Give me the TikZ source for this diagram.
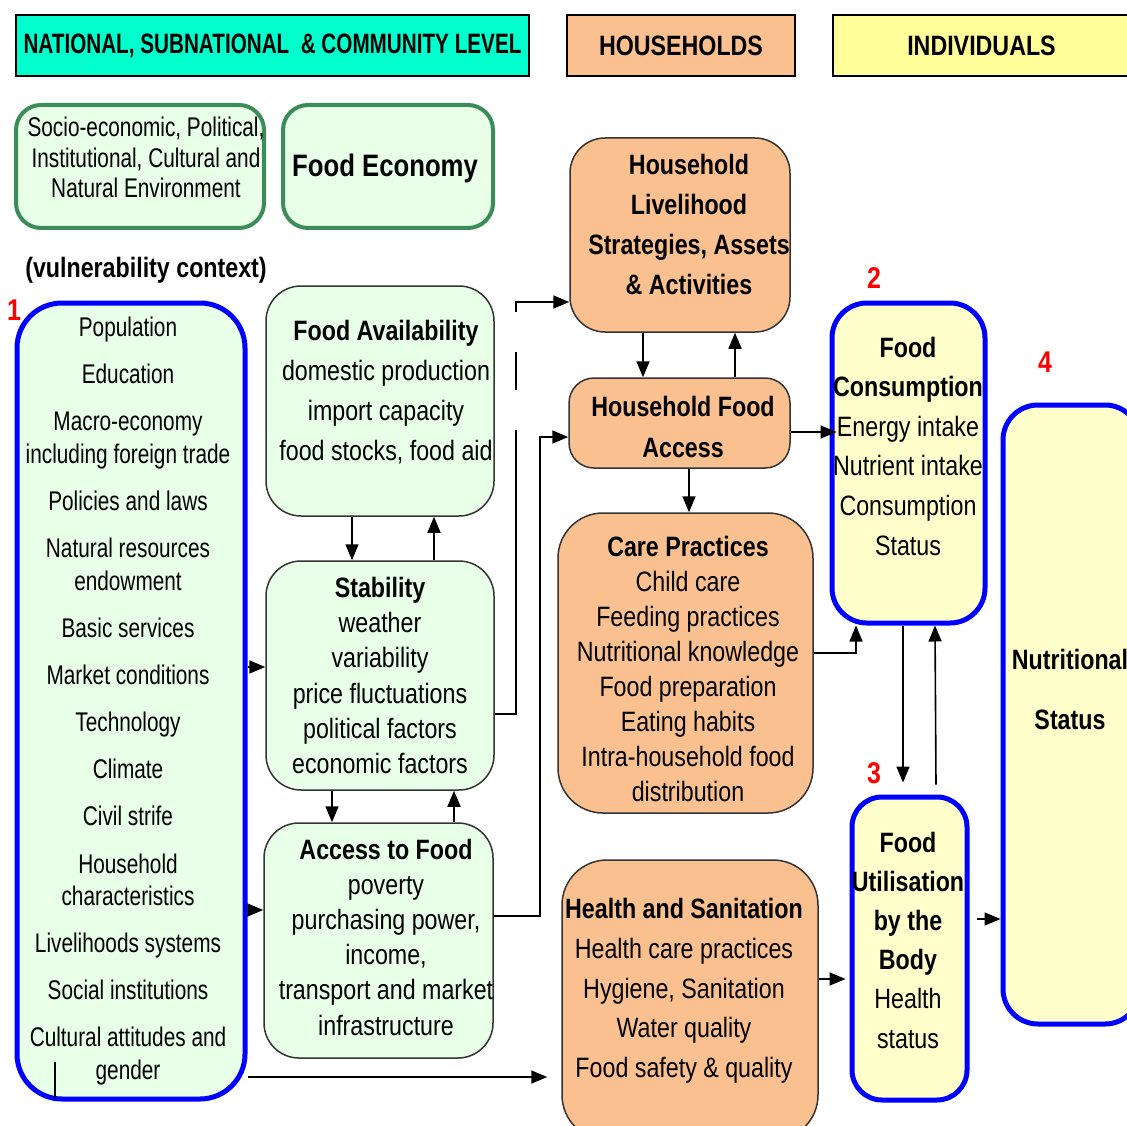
\documentclass[tikz,border=0pt]{standalone}
\usepackage{fontspec}
\usepackage{graphicx}
\usetikzlibrary{arrows.meta}
\newfontfamily\nfont[FakeStretch=0.83]{Liberation Sans}
\newfontfamily\lfont[FakeStretch=0.77]{Liberation Sans}
\definecolor{hcyan}{RGB}{0,255,204}
\definecolor{hpeach}{RGB}{250,192,144}
\definecolor{hyellow}{RGB}{255,255,153}
\definecolor{lgreen}{RGB}{232,255,232}
\definecolor{lyellow}{RGB}{255,255,204}
\definecolor{dgreen}{RGB}{60,140,90}
\definecolor{bblue}{RGB}{0,0,255}
\begin{document}
\begin{tikzpicture}[x=1pt,y=-1pt,
  hdr/.style={draw=black, line width=1.5pt, inner sep=0pt, font=\nfont\bfseries\fontsize{28}{30}\selectfont},
  gbox/.style={draw=dgreen, line width=4pt, fill=lgreen, rounded corners=25pt, inner sep=0pt},
  tbox/.style={draw=black!80, line width=1.5pt, fill=lgreen, rounded corners=35pt, inner sep=0pt},
  pbox/.style={draw=black!80, line width=1.5pt, fill=hpeach, rounded corners=35pt, inner sep=0pt},
  ybox/.style={draw=bblue, line width=5pt, fill=lyellow, rounded corners=35pt, inner sep=0pt},
  txt/.style={align=center, inner sep=0pt, font=\nfont\fontsize{28}{35}\selectfont},
  arr/.style={-{Triangle[length=16pt,width=13pt]}, line width=1.6pt, draw=black},
  num/.style={text=red, font=\nfont\bfseries\fontsize{30}{30}\selectfont, inner sep=0pt}
]
\clip (0,0) rectangle (1127,1126);
\fill[white] (0,0) rectangle (1127,1126);

% headers
\node[hdr, fill=hcyan, minimum width=513pt, minimum height=61pt] (hN) at (272.5,45.5) {\scalebox{0.89}[1]{NATIONAL, SUBNATIONAL\ \ \& COMMUNITY LEVEL}};
\node[hdr, fill=hpeach, minimum width=228pt, minimum height=61pt] (hH) at (681,45.5) {HOUSEHOLDS};
\node[hdr, fill=hyellow, minimum width=297pt, minimum height=61pt] (hI) at (981.5,45.5) {INDIVIDUALS};

% top green boxes
\node[gbox, minimum width=248pt, minimum height=123pt] (se) at (140,166.5) {};
\node[txt, font=\lfont\fontsize{27}{30.5}\selectfont] (set) at (146,157.5) {Socio-economic, Political,\\Institutional, Cultural and\\Natural Environment};
\node[gbox, minimum width=210pt, minimum height=123pt] (fe) at (388,166.5) {};
\node[txt, font=\nfont\bfseries\fontsize{31}{35}\selectfont] (fet) at (385,168) {Food Economy};

\node[inner sep=0pt, font=\nfont\bfseries\fontsize{28}{30}\selectfont] (vc) at (146,270) {(vulnerability context)};

% left vulnerability box
\node[ybox, fill=lgreen, rounded corners=45pt, minimum width=228pt, minimum height=796pt] (L) at (131,701) {};
\node[txt, font=\lfont\fontsize{27}{32.5}\selectfont] (Lt) at (128,701) {Population\\[14.65pt]Education\\[14.65pt]Macro-economy\\including foreign trade\\[14.65pt]Policies and laws\\[14.65pt]Natural resources\\endowment\\[14.65pt]Basic services\\[14.65pt]Market conditions\\[14.65pt]Technology\\[14.65pt]Climate\\[14.65pt]Civil strife\\[14.65pt]Household\\characteristics\\[14.65pt]Livelihoods systems\\[14.65pt]Social institutions\\[14.65pt]Cultural attitudes and\\gender};
\draw[line width=2.5pt] (55,1062) -- (55,1098);

% food economy column
\node[tbox, minimum width=228pt, minimum height=230pt] (fa) at (380,401) {};
\node[txt, font=\nfont\fontsize{28}{40}\selectfont] (fat) at (386,392) {{\bfseries Food Availability}\\domestic production\\import capacity\\food stocks, food aid};
\node[tbox, minimum width=228pt, minimum height=229pt, txt, font=\nfont\fontsize{28}{35.2}\selectfont] (st) at (380,675.5) {{\bfseries Stability}\\weather\\variability\\price fluctuations\\political factors\\economic factors};
\node[tbox, minimum width=229pt, minimum height=235pt] (ac) at (378.5,940.5) {};
\node[txt, font=\nfont\fontsize{28}{35.2}\selectfont] (act) at (386,937) {{\bfseries Access to Food}\\poverty\\purchasing power,\\income,\\transport and market\\infrastructure};

% households column
\node[pbox, minimum width=220pt, minimum height=194pt] (hl) at (680,235) {};
\node[txt, font=\nfont\bfseries\fontsize{28}{39.7}\selectfont] (hlt) at (689,224.5) {Household\\Livelihood\\Strategies, Assets\\\& Activities};
\node[pbox, rounded corners=25pt, minimum width=221pt, minimum height=90pt] (hfa) at (679.5,423) {};
\node[txt, font=\nfont\bfseries\fontsize{28}{41}\selectfont] (hfat) at (683,427) {Household Food\\Access};
\node[pbox, rounded corners=45pt, minimum width=255pt, minimum height=300pt] (care) at (685.5,663) {};
\node[txt, font=\nfont\fontsize{28}{34.9}\selectfont] (caret) at (688,669) {{\bfseries Care Practices}\\Child care\\Feeding practices\\Nutritional knowledge\\Food preparation\\Eating habits\\Intra-household food\\distribution};
\node[pbox, rounded corners=45pt, minimum width=256pt, minimum height=280pt] (hs) at (690,1000) {};
\node[txt, font=\nfont\fontsize{28}{39.75}\selectfont] (hst) at (684,991) {{\bfseries Health and Sanitation}\\Health care practices\\Hygiene, Sanitation\\Water quality\\Food safety \& quality};

% individuals column
\node[ybox, minimum width=153pt, minimum height=320pt] (fc) at (908.5,463) {};
\node[txt, font=\nfont\fontsize{28}{39.6}\selectfont] (fct) at (908,446) {{\bfseries Food}\\{\bfseries Consumption}\\Energy intake\\Nutrient intake\\Consumption\\Status};
\node[ybox, rounded corners=30pt, minimum width=115pt, minimum height=303pt] (fu) at (909.5,948.5) {};
\node[txt, font=\nfont\fontsize{28}{39.2}\selectfont] (fut) at (908,940) {{\bfseries Food}\\{\bfseries Utilisation}\\{\bfseries by the}\\{\bfseries Body}\\Health\\status};
\node[ybox, minimum width=137pt, minimum height=619pt] (ns) at (1071.5,714.5) {};
\node[txt, font=\nfont\bfseries\fontsize{28}{60}\selectfont] (nst) at (1070,689) {Nutritional\\Status};

% numbers
\node[num] (n1) at (14,310) {1};
\node[num] (n2) at (874,278) {2};
\node[num] (n3) at (874,773) {3};
\node[num] (n4) at (1045,362) {4};

% connectors
\draw[arr] ([xshift=-28pt]fa.south) -- ([xshift=-28pt]st.north);
\draw[arr] ([xshift=54pt]st.north) -- ([xshift=54pt]fa.south);
\draw[arr] ([xshift=-48pt]st.south) -- ([xshift=-46.5pt]ac.north);
\draw[arr] ([xshift=75.5pt]ac.north) -- ([xshift=74pt]st.south);

\coordinate (p1) at ([yshift=8.5pt]st.west);
\draw[arr] (L.east |- p1) -- (p1);
\coordinate (p2) at ([yshift=30.5pt]ac.west);
\draw[arr] (L.east |- p2) -- (p2);
\coordinate (p3) at ([xshift=-14pt,yshift=-77pt]hs.west);
\draw[arr] (L.east |- p3) -- (p3);

\coordinate (q1) at ([yshift=-38.5pt]st.east);
\coordinate (q2) at ([yshift=-67pt]hl.west);
\draw[arr, dash pattern=on 305pt off 40pt on 38pt off 40pt on 120pt] (q1) -- ++(21,0) |- (q2);

\coordinate (r1) at ([yshift=24.5pt]ac.east);
\coordinate (r2) at ([yshift=-14pt]hfa.west);
\draw[arr] (r1) -- ++(46,0) |- (r2);

\draw[arr] ([xshift=-37pt]hl.south) -- ([xshift=-36.5pt]hfa.north);
\draw[arr] ([xshift=55.5pt]hfa.north) -- ([xshift=55pt]hl.south);
\draw[arr] ([xshift=9.5pt]hfa.south) -- ([xshift=3.5pt]care.north);

\coordinate (s1) at ([yshift=-9pt]hfa.east);
\path (s1 -| fc.west) coordinate (s2);
\draw[arr] (s1) -- ([xshift=7pt]s2);

\draw[arr] ([yshift=10pt]care.east) -| ([xshift=-52.5pt]fc.south);

\draw[arr] ([xshift=-5.5pt]fc.south) -- ([xshift=-6.5pt,yshift=12pt]fu.north);
\draw[arr] ([xshift=26.5pt,yshift=10pt]fu.north) -- ([xshift=26.5pt]fc.south);

\coordinate (t1) at ([yshift=21pt]hs.east);
\coordinate (t2) at ([xshift=-4pt,yshift=-30.5pt]fu.west);
\draw[arr] (t1) -- (t2);

\draw[arr] ([xshift=7pt,yshift=29.5pt]fu.east) -- ([yshift=-204.5pt]ns.west);
\end{tikzpicture}
\end{document}
